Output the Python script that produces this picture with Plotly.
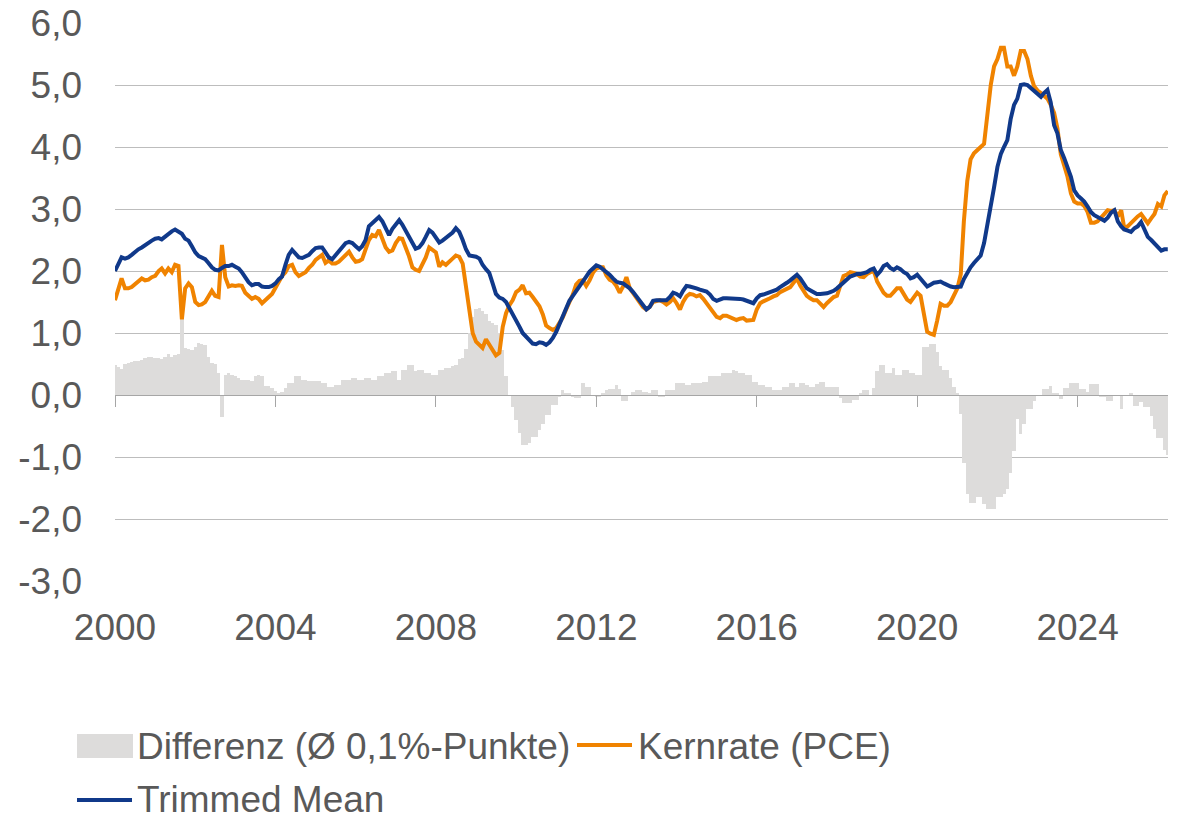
import plotly.graph_objects as go
import pandas as pd

# ---------------- data (monthly, Jan 2000 .. Apr 2026) ----------------
START_MONTH = "2000-01-01"

KERNRATE = [
    1.53, 1.70, 1.88, 1.72, 1.72, 1.74, 1.78, 1.83, 1.88, 1.85, 1.86, 1.90,  # 2000
    1.92, 2.00, 2.04, 1.96, 2.04, 1.98, 2.10, 2.08, 1.22, 1.72, 1.80, 1.74,  # 2001
    1.50, 1.45, 1.46, 1.50, 1.60, 1.68, 1.60, 1.58, 2.42, 1.90, 1.75, 1.77,  # 2002
    1.76, 1.77, 1.76, 1.65, 1.60, 1.55, 1.58, 1.55, 1.48, 1.54, 1.58, 1.63,  # 2003
    1.74, 1.84, 1.92, 1.98, 2.08, 2.10, 1.98, 1.92, 1.95, 1.98, 2.05, 2.10,  # 2004
    2.18, 2.22, 2.26, 2.13, 2.17, 2.12, 2.12, 2.15, 2.20, 2.26, 2.31, 2.22,  # 2005
    2.15, 2.16, 2.19, 2.35, 2.50, 2.58, 2.56, 2.66, 2.52, 2.38, 2.31, 2.33,  # 2006
    2.45, 2.53, 2.52, 2.38, 2.24, 2.06, 2.02, 2.00, 2.12, 2.22, 2.38, 2.34,  # 2007
    2.30, 2.07, 2.14, 2.10, 2.16, 2.20, 2.25, 2.23, 2.12, 1.72, 1.36, 1.00,  # 2008
    0.86, 0.80, 0.76, 0.90, 0.82, 0.72, 0.64, 0.68, 1.10, 1.32, 1.45, 1.53,  # 2009
    1.66, 1.70, 1.77, 1.64, 1.65, 1.58, 1.50, 1.43, 1.30, 1.12, 1.08, 1.05,  # 2010
    1.08, 1.17, 1.25, 1.38, 1.50, 1.62, 1.78, 1.84, 1.85, 1.76, 1.85, 1.97,  # 2011
    2.04, 2.06, 2.06, 1.93, 1.86, 1.83, 1.76, 1.65, 1.75, 1.90, 1.72, 1.64,  # 2012
    1.58, 1.48, 1.42, 1.38, 1.42, 1.50, 1.52, 1.53, 1.50, 1.46, 1.50, 1.56,  # 2013
    1.48, 1.38, 1.50, 1.59, 1.63, 1.62, 1.59, 1.61, 1.55, 1.48, 1.40, 1.32,  # 2014
    1.26, 1.24, 1.28, 1.28, 1.26, 1.24, 1.21, 1.23, 1.24, 1.20, 1.21, 1.21,  # 2015
    1.38, 1.48, 1.51, 1.53, 1.56, 1.59, 1.61, 1.66, 1.69, 1.72, 1.74, 1.81,  # 2016
    1.88, 1.76, 1.67, 1.60, 1.56, 1.53, 1.53, 1.47, 1.42, 1.48, 1.54, 1.58,  # 2017
    1.60, 1.75, 1.92, 1.94, 1.98, 1.97, 1.95, 1.91, 1.90, 1.95, 1.98, 2.01,  # 2018
    1.83, 1.72, 1.65, 1.60, 1.60, 1.66, 1.72, 1.72, 1.62, 1.54, 1.50, 1.57,  # 2019
    1.65, 1.60, 1.30, 1.02, 0.99, 0.97, 1.20, 1.47, 1.44, 1.44, 1.50, 1.60,  # 2020
    1.72, 1.95, 2.80, 3.45, 3.80, 3.90, 3.96, 4.00, 4.05, 4.50, 5.00, 5.30,  # 2021
    5.42, 5.60, 5.60, 5.30, 5.30, 5.15, 5.30, 5.55, 5.55, 5.42, 5.15, 4.98,  # 2022
    4.91, 4.87, 4.83, 4.78, 4.68, 4.55, 4.30, 3.88, 3.70, 3.52, 3.25, 3.12,  # 2023
    3.09, 3.09, 3.05, 2.95, 2.78, 2.78, 2.80, 2.85, 2.92, 2.98, 2.97, 2.98,  # 2024
    2.88, 2.98, 2.69, 2.72, 2.78, 2.82, 2.88, 2.92, 2.85, 2.77, 2.85, 2.92,  # 2025
    3.08, 3.04, 3.22, 3.29,                                                  # 2026
]

TRIMMED_MEAN = [
    2.00, 2.12, 2.22, 2.20, 2.22, 2.26, 2.31, 2.35, 2.38, 2.42, 2.45, 2.49,  # 2000
    2.52, 2.53, 2.51, 2.56, 2.60, 2.64, 2.67, 2.64, 2.60, 2.52, 2.49, 2.40,  # 2001
    2.30, 2.24, 2.22, 2.19, 2.13, 2.06, 2.02, 2.01, 2.05, 2.08, 2.08, 2.10,  # 2002
    2.07, 2.04, 1.98, 1.90, 1.82, 1.77, 1.79, 1.79, 1.75, 1.74, 1.74, 1.76,  # 2003
    1.80, 1.87, 1.91, 2.10, 2.26, 2.34, 2.28, 2.22, 2.21, 2.24, 2.26, 2.32,  # 2004
    2.37, 2.38, 2.38, 2.30, 2.22, 2.19, 2.25, 2.31, 2.38, 2.45, 2.47, 2.45,  # 2005
    2.40, 2.35, 2.40, 2.50, 2.72, 2.77, 2.80, 2.87, 2.80, 2.70, 2.58, 2.68,  # 2006
    2.74, 2.82, 2.75, 2.65, 2.53, 2.44, 2.36, 2.38, 2.45, 2.55, 2.66, 2.62,  # 2007
    2.55, 2.46, 2.49, 2.53, 2.57, 2.62, 2.69, 2.63, 2.50, 2.35, 2.25, 2.24,  # 2008
    2.23, 2.20, 2.10, 2.03, 1.97, 1.80, 1.63, 1.57, 1.55, 1.50, 1.40, 1.33,  # 2009
    1.20, 1.10, 1.00, 0.95, 0.89, 0.83, 0.82, 0.85, 0.84, 0.81, 0.85, 0.92,  # 2010
    1.02, 1.15, 1.30, 1.43, 1.52, 1.60, 1.67, 1.75, 1.83, 1.91, 1.99, 2.05,  # 2011
    2.09, 2.07, 2.03, 1.98, 1.94, 1.88, 1.83, 1.81, 1.80, 1.76, 1.72, 1.66,  # 2012
    1.59, 1.53, 1.47, 1.38, 1.42, 1.52, 1.53, 1.53, 1.52, 1.53, 1.58, 1.65,  # 2013
    1.63, 1.59, 1.68, 1.76, 1.75, 1.74, 1.72, 1.70, 1.69, 1.67, 1.62, 1.55,  # 2014
    1.52, 1.54, 1.56, 1.56, 1.56, 1.56, 1.55, 1.55, 1.54, 1.52, 1.50, 1.48,  # 2015
    1.56, 1.61, 1.62, 1.64, 1.66, 1.69, 1.70, 1.74, 1.77, 1.81, 1.85, 1.90,  # 2016
    1.94, 1.88, 1.80, 1.72, 1.69, 1.65, 1.63, 1.63, 1.63, 1.64, 1.66, 1.68,  # 2017
    1.72, 1.77, 1.82, 1.87, 1.91, 1.93, 1.95, 1.95, 1.96, 1.98, 2.02, 2.04,  # 2018
    1.94, 2.00, 2.08, 2.11, 2.05, 2.02, 2.06, 2.03, 1.98, 1.95, 1.88, 1.90,  # 2019
    1.94, 1.88, 1.80, 1.75, 1.78, 1.81, 1.82, 1.83, 1.80, 1.77, 1.75, 1.74,  # 2020
    1.74, 1.75, 1.87, 1.98, 2.06, 2.13, 2.18, 2.25, 2.45, 2.72, 3.03, 3.35,  # 2021
    3.68, 3.89, 4.00, 4.11, 4.45, 4.68, 4.78, 5.00, 5.01, 5.00, 4.95, 4.90,  # 2022
    4.85, 4.81, 4.87, 4.92, 4.72, 4.35, 4.22, 3.95, 3.82, 3.68, 3.52, 3.30,  # 2023
    3.22, 3.17, 3.12, 3.04, 2.95, 2.90, 2.87, 2.84, 2.81, 2.86, 2.94, 2.98,  # 2024
    2.80, 2.72, 2.67, 2.65, 2.63, 2.69, 2.72, 2.79, 2.65, 2.55, 2.50, 2.45,  # 2025
    2.40, 2.33, 2.35, 2.35,                                                  # 2026
]

DIFFERENZ = [
    0.48, 0.45, 0.42, 0.50, 0.52, 0.54, 0.55, 0.55, 0.57, 0.60, 0.62, 0.62,  # 2000
    0.60, 0.60, 0.58, 0.62, 0.66, 0.62, 0.65, 0.66, 1.28, 0.76, 0.74, 0.72,  # 2001
    0.78, 0.84, 0.82, 0.80, 0.62, 0.52, 0.50, 0.35, -0.36, 0.32, 0.35, 0.32,  # 2002
    0.30, 0.28, 0.25, 0.25, 0.24, 0.22, 0.30, 0.33, 0.30, 0.15, 0.14, 0.12,  # 2003
    0.06, 0.03, 0.05, 0.12, 0.20, 0.20, 0.30, 0.30, 0.25, 0.25, 0.22, 0.22,  # 2004
    0.22, 0.22, 0.20, 0.20, 0.13, 0.13, 0.16, 0.16, 0.25, 0.25, 0.25, 0.28,  # 2005
    0.28, 0.25, 0.25, 0.28, 0.28, 0.25, 0.25, 0.30, 0.30, 0.36, 0.36, 0.39,  # 2006
    0.39, 0.25, 0.41, 0.41, 0.48, 0.48, 0.38, 0.41, 0.41, 0.36, 0.36, 0.33,  # 2007
    0.33, 0.41, 0.41, 0.44, 0.44, 0.47, 0.49, 0.58, 0.60, 0.75, 1.00, 1.26,  # 2008
    1.38, 1.41, 1.35, 1.30, 1.20, 1.16, 1.13, 1.00, 0.73, 0.30, 0.00, -0.19,  # 2009
    -0.40, -0.62, -0.80, -0.80, -0.78, -0.67, -0.67, -0.56, -0.46, -0.32, -0.32, -0.16,  # 2010
    -0.16, -0.03, 0.08, 0.03, 0.03, -0.03, -0.05, -0.05, 0.19, 0.13, 0.13, 0.00,  # 2011
    -0.03, -0.03, 0.02, 0.08, 0.10, 0.10, 0.16, 0.10, -0.10, -0.10, 0.00, 0.05,  # 2012
    0.08, 0.08, 0.05, 0.05, 0.03, 0.08, 0.08, -0.03, -0.03, 0.08, 0.08, 0.08,  # 2013
    0.20, 0.20, 0.20, 0.16, 0.16, 0.19, 0.19, 0.19, 0.21, 0.21, 0.30, 0.30,  # 2014
    0.31, 0.31, 0.35, 0.35, 0.35, 0.40, 0.39, 0.35, 0.35, 0.32, 0.32, 0.21,  # 2015
    0.21, 0.16, 0.16, 0.13, 0.13, 0.08, 0.08, 0.08, 0.13, 0.13, 0.19, 0.19,  # 2016
    0.13, 0.19, 0.19, 0.16, 0.13, 0.13, 0.18, 0.21, 0.21, 0.13, 0.13, 0.13,  # 2017
    0.13, -0.05, -0.13, -0.13, -0.13, -0.08, -0.08, 0.04, 0.08, 0.08, 0.00, 0.11,  # 2018
    0.38, 0.48, 0.48, 0.35, 0.35, 0.43, 0.32, 0.32, 0.40, 0.40, 0.36, 0.36,  # 2019
    0.32, 0.33, 0.78, 0.78, 0.83, 0.83, 0.70, 0.46, 0.41, 0.41, 0.27, 0.13,  # 2020
    0.03, -0.30, -1.10, -1.60, -1.74, -1.74, -1.65, -1.65, -1.75, -1.84, -1.84, -1.84,  # 2021
    -1.65, -1.65, -1.60, -1.52, -1.25, -0.90, -0.39, -0.63, -0.47, -0.23, -0.23, -0.10,  # 2022
    0.00, 0.00, 0.09, 0.09, 0.15, 0.04, 0.04, -0.07, 0.12, 0.12, 0.19, 0.19,  # 2023
    0.19, 0.09, 0.09, 0.05, 0.17, 0.17, 0.17, -0.04, -0.04, -0.10, -0.10, 0.00,  # 2024
    0.00, -0.23, 0.00, 0.00, 0.04, -0.18, -0.18, -0.12, -0.20, -0.20, -0.34, -0.55,  # 2025
    -0.69, -0.69, -0.88, -0.96,                                              # 2026
]

Y_TICK_VALUES = [-3, -2, -1, 0, 1, 2, 3, 4, 5, 6]
Y_TICK_LABELS = ["-3,0", "-2,0", "-1,0", "0,0", "1,0", "2,0", "3,0", "4,0", "5,0", "6,0"]
X_TICK_YEARS = [2000, 2004, 2008, 2012, 2016, 2020, 2024]
X_RANGE = ["2000-01-01", "2026-04-03"]

NAME_DIFF = "Differenz (Ø 0,1%-Punkte)"
NAME_KERN = "Kernrate (PCE)"
NAME_TRIM = "Trimmed Mean"

# ---------------- styling ----------------
ORANGE = "#F08300"
NAVY = "#10398A"
BAR_GREY = "#DDDCDB"
GRID = "#BDBDBD"
AXIS = "#A6A6A6"
TEXT = "#595959"
FONT = "Liberation Sans, Arial, sans-serif"
FS = 37

assert len(KERNRATE) == len(TRIMMED_MEAN) == len(DIFFERENZ)
dates = pd.date_range(START_MONTH, periods=len(KERNRATE), freq="MS")
x_tick_vals = [f"{y}-01-01" for y in X_TICK_YEARS]
x_tick_text = [str(y) for y in X_TICK_YEARS]

fig = go.Figure()
fig.add_trace(go.Bar(
    x=dates, y=DIFFERENZ, name=NAME_DIFF, xaxis="x", yaxis="y",
    marker=dict(color=BAR_GREY, line=dict(width=0)),
    width=31 * 24 * 3600 * 1000,
))
fig.add_trace(go.Scatter(
    x=dates, y=KERNRATE, name=NAME_KERN, mode="lines", xaxis="x2", yaxis="y",
    line=dict(color=ORANGE, width=4),
))
fig.add_trace(go.Scatter(
    x=dates, y=TRIMMED_MEAN, name=NAME_TRIM, mode="lines", xaxis="x2", yaxis="y",
    line=dict(color=NAVY, width=4),
))

# plot-area geometry (pixels) used to place the hand-made legend
W, H = 1182, 819
L, R, T, B = 115, 14, 23, 238
PW, PH = W - L - R, H - T - B


def px(xp):
    return (xp - L) / PW


def py(yp):
    return (H - B - yp) / PH


zero_pos = (0 - (-3)) / (6 - (-3))

fig.update_layout(
    width=W, height=H,
    margin=dict(l=L, r=R, t=T, b=B, pad=0, autoexpand=False),
    paper_bgcolor="white", plot_bgcolor="white",
    showlegend=False, bargap=0,
    font=dict(family=FONT, size=FS, color=TEXT),
    xaxis=dict(
        type="date", range=X_RANGE, tickvals=x_tick_vals, ticktext=x_tick_text,
        showgrid=False, zeroline=False, showline=False, ticks="", automargin=False,
        ticklabelstandoff=21, tickfont=dict(family=FONT, size=FS, color=TEXT),
    ),
    xaxis2=dict(
        type="date", range=X_RANGE, overlaying="x", anchor="free", position=zero_pos,
        tickvals=x_tick_vals, showticklabels=False, ticks="outside", ticklen=11,
        tickwidth=1, tickcolor=AXIS, showline=True, linecolor=AXIS, linewidth=1,
        showgrid=False, zeroline=False, automargin=False,
    ),
    yaxis=dict(
        range=[-3, 6], tickvals=Y_TICK_VALUES, ticktext=Y_TICK_LABELS,
        showgrid=True, gridcolor=GRID, gridwidth=1, zeroline=False, showline=False,
        ticks="", ticklabelstandoff=32, automargin=False,
        tickfont=dict(family=FONT, size=FS, color=TEXT),
    ),
)

# legend drawn by hand (wide swatches as in the original)
shapes = [
    dict(type="rect", xref="paper", yref="paper", x0=px(77), x1=px(133), y0=py(734), y1=py(758),
         fillcolor=BAR_GREY, line=dict(width=0)),
    dict(type="line", xref="paper", yref="paper", x0=px(577), x1=px(632), y0=py(745), y1=py(745),
         line=dict(color=ORANGE, width=4)),
    dict(type="line", xref="paper", yref="paper", x0=px(77), x1=px(132), y0=py(800), y1=py(800),
         line=dict(color=NAVY, width=4)),
]
annotations = [
    dict(text=NAME_DIFF, x=px(136), y=py(746)),
    dict(text=NAME_KERN, x=px(637), y=py(746)),
    dict(text=NAME_TRIM, x=px(136), y=py(799)),
]
for a in annotations:
    a.update(xref="paper", yref="paper", xanchor="left", yanchor="middle", showarrow=False,
             borderpad=0, font=dict(family=FONT, size=FS, color=TEXT))
fig.update_layout(shapes=shapes, annotations=annotations)

fig.write_html(
    "out.html",
    config={"displayModeBar": False},
    post_script="document.body.style.margin='0px';",
)
